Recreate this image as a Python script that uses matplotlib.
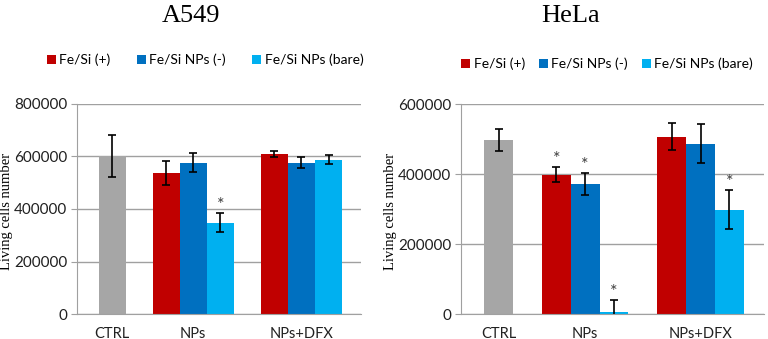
import matplotlib
matplotlib.use("Agg")
import matplotlib.pyplot as plt
import numpy as np

# data
groups = ["CTRL", "NPs", "NPs+DFX"]
series = ["Fe/Si (+)", "Fe/Si NPs (-)", "Fe/Si NPs (bare)"]
colors = ["#C00000", "#0070C0", "#00B0F0"]
ctrl_color = "#A6A6A6"

a549_ctrl, a549_ctrl_err = 603000, 80000
a549_vals = [[537000, 610000], [577000, 577000], [348000, 588000]]
a549_errs = [[45000, 12000], [37000, 20000], [36000, 17000]]
a549_stars = [[False, False], [False, False], [True, False]]

hela_ctrl, hela_ctrl_err = 498000, 32000
hela_vals = [[398000, 507000], [372000, 487000], [7000, 298000]]
hela_errs = [[22000, 39000], [32000, 55000], [34000, 55000]]
hela_stars = [[True, False], [True, False], [True, True]]

SANS = "Lato"
SERIF = "Liberation Serif"
GRID = "#A0A0A0"

fig = plt.figure(figsize=(7.68, 3.39), dpi=100)


def panel(rect, title, ctrl, ctrl_err, vals, errs, stars, ymax, title_x,
          ylab_x, leg_x, leg_y, colspace):
    ax = fig.add_axes(rect)
    w = 1.0
    ekw = dict(ecolor="black", elinewidth=1.2, capsize=3, capthick=1.2)
    ax.bar(1.3, ctrl, w, color=ctrl_color, yerr=ctrl_err, error_kw=ekw, zorder=2)
    starts = [3.3, 7.3]
    handles = []
    for i, (name, col) in enumerate(zip(series, colors)):
        xs = [s + i * w for s in starts]
        b = ax.bar(xs, vals[i], w, color=col, yerr=errs[i], error_kw=ekw,
                   label=name, zorder=2)
        handles.append(b)
        for x, v, e, st in zip(xs, vals[i], errs[i], stars[i]):
            if st:
                ax.annotate("*", (x, v + e), xytext=(0, 0), textcoords="offset points",
                            ha="center", va="bottom", fontsize=13, color="#404040",
                            family=SANS)
    ax.set_xlim(0, 10.5)
    ax.set_ylim(0, ymax)
    ax.set_yticks(np.arange(0, ymax + 1, 200000))
    ax.set_xticks([1.3, 4.3, 8.3])
    ax.set_xticklabels(groups)
    ax.grid(axis="y", color=GRID, lw=1, zorder=0)
    ax.set_axisbelow(True)
    for s in ["top", "right"]:
        ax.spines[s].set_visible(False)
    for s in ["left", "bottom"]:
        ax.spines[s].set_color(GRID)
    ax.tick_params(axis="y", length=4, color=GRID, labelsize=11, pad=3)
    ax.tick_params(axis="x", length=0, labelsize=10.5, pad=9)
    for t in ax.get_xticklabels() + ax.get_yticklabels():
        t.set_family(SANS)
        t.set_color("#202020")
    ax.set_ylabel("Living cells number", family=SERIF, fontsize=10.5)
    ax.yaxis.set_label_coords(ylab_x, 0.49)
    fig.text(title_x, 1 - 16 / 339, title, ha="center", va="center",
             family=SERIF, fontsize=19)
    fig.legend(handles=handles, loc="center", bbox_to_anchor=(leg_x, leg_y),
               ncol=3, frameon=False, handlelength=0.65, handleheight=0.65,
               handletextpad=0.25, columnspacing=colspace,
               prop={"family": SANS, "size": 10})
    return ax


panel([77 / 768, 25 / 339, 284 / 768, 210 / 339], "A549",
      a549_ctrl, a549_ctrl_err, a549_vals, a549_errs, a549_stars, 800000,
      191 / 768, -0.225, 205 / 768, 1 - 60 / 339, 1.9)
panel([461 / 768, 25 / 339, 303 / 768, 210 / 339], "HeLa",
      hela_ctrl, hela_ctrl_err, hela_vals, hela_errs, hela_stars, 600000,
      571 / 768, -0.21, 607 / 768, 1 - 64 / 339, 1.0)

fig.savefig("out.png", dpi=100)
